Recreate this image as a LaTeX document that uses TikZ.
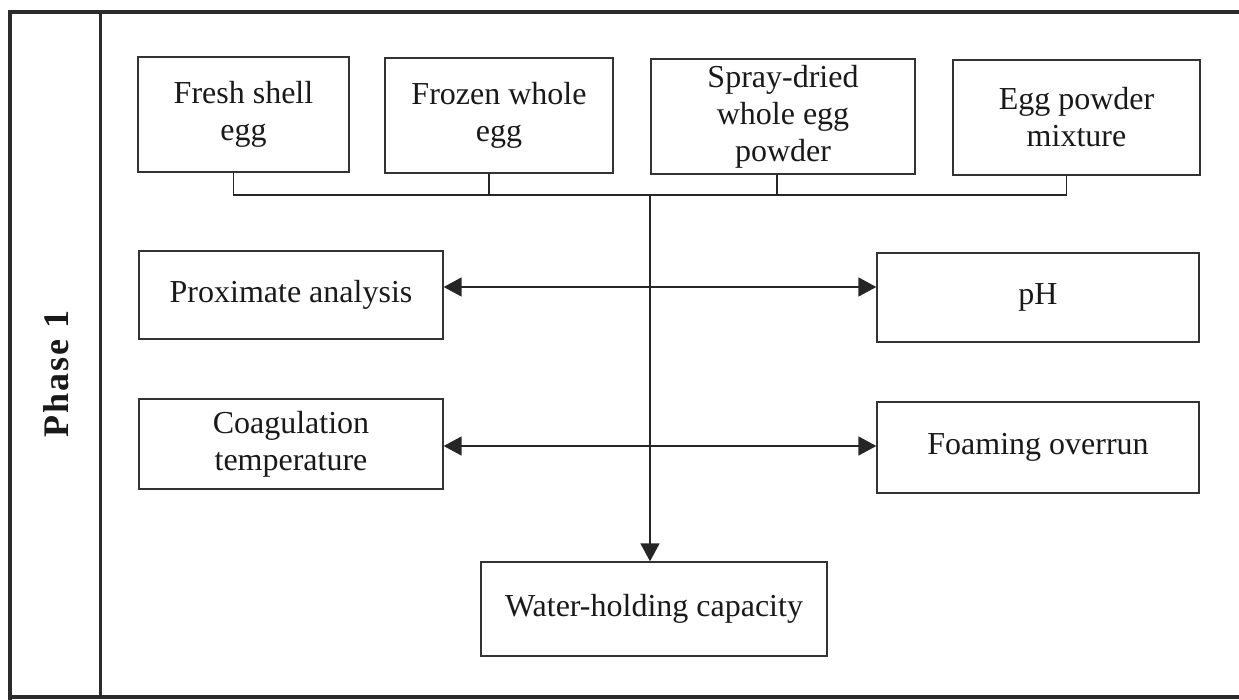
\documentclass[tikz,border=0pt]{standalone}
\usepackage{fontspec}
\setmainfont{Liberation Serif}
\usepackage{tikz}
\usetikzlibrary{arrows.meta,calc,positioning}

\definecolor{linegray}{HTML}{333333}
\definecolor{framegray}{HTML}{2B2B2B}

\begin{document}
\begin{tikzpicture}[x=1pt, y=-1pt, >={Triangle[length=18pt, width=19pt]},
    box/.style={rectangle, draw=linegray, line width=1.3pt, align=center, inner sep=0pt, text=black!90, font=\fontsize{32}{37}\selectfont},
    link/.style={draw=black!85, line width=1.6pt}]
    \useasboundingbox (0,0) rectangle (1239,700);

    % outer frame
    \draw[framegray, line width=4pt] (1239,12) -- (10,12) -- (10,700);
    \draw[framegray, line width=4pt] (10,697) -- (1239,697);
    \draw[framegray, line width=3pt] (100,12) -- (100,697);
    \node (phase) [rotate=90, text=black!90, font=\bfseries\fontsize{36}{40}\selectfont\addfontfeature{LetterSpace=6}] at (56,374) {Phase 1};

    % egg samples
    \node (fresh) [box, minimum width=211pt, minimum height=115pt] at (243.5,114.5) {Fresh shell\\ egg};
    \node (frozen) [box, minimum width=228pt, minimum height=115pt] at (499,115.5) {Frozen whole\\ egg};
    \node (spray) [box, minimum width=264pt, minimum height=115pt] at (783,116.5) {Spray-dried\\ whole egg\\ powder};
    \node (mixture) [box, minimum width=247pt, minimum height=115pt] at (1076.5,117.5) {Egg powder\\ mixture};

    % analyses
    \node (prox) [box, minimum width=304pt, minimum height=88pt] at (291,295) {Proximate analysis};
    \node (ph) [box, minimum width=322pt, minimum height=89pt] at (1038,297.5) {pH};
    \node (coag) [box, minimum width=304pt, minimum height=90pt] at (291,444) {Coagulation\\ temperature};
    \node (foam) [box, minimum width=322pt, minimum height=91pt] at (1038,447.5) {Foaming overrun};
    \node (whc) [box, minimum width=346pt, minimum height=94pt] at (654,609) {Water-holding capacity};

    \coordinate (hub) at (650,195);

    \draw[link] ([xshift=-10pt]fresh.south) |- (hub);
    \draw[link] ([xshift=-10pt]mixture.south) |- (hub);
    \draw[link] ([xshift=-10pt]frozen.south) -- ([xshift=-10pt]frozen.south |- hub);
    \draw[link] ([xshift=-6pt]spray.south) -- ([xshift=-6pt]spray.south |- hub);
    \draw[link, ->] (hub) -- (hub |- whc.north);

    \draw[link, <->] ([yshift=8pt]prox.east) -- ([yshift=8pt]prox.east -| ph.west);
    \draw[link, <->] ([yshift=-2pt]coag.east) -- ([yshift=-2pt]coag.east -| foam.west);
\end{tikzpicture}
\end{document}
